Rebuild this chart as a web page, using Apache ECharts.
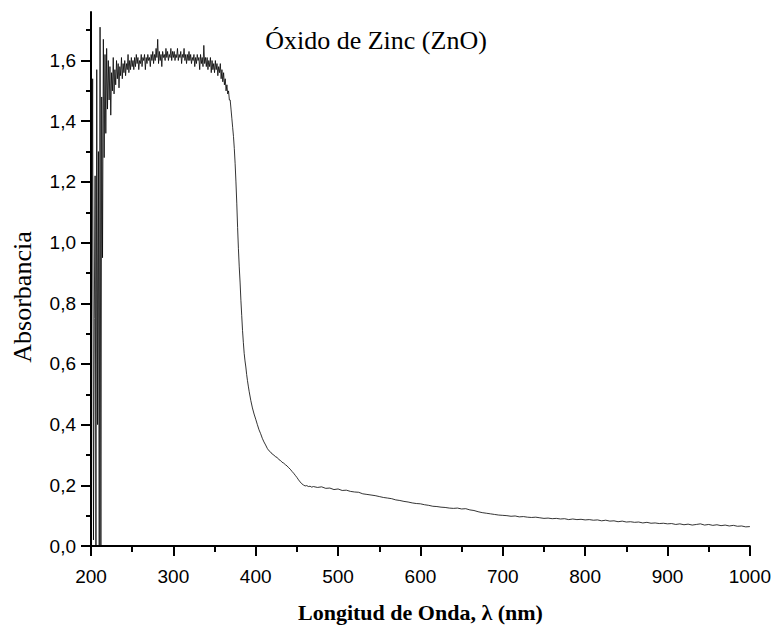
<!DOCTYPE html>
<html>
<head>
<meta charset="utf-8">
<script src="https://cdn.jsdelivr.net/npm/echarts@6/dist/echarts.min.js"></script>
<style>
html,body{margin:0;padding:0;background:#fff;}
#chart{width:774px;height:628px;}
</style>
</head>
<body>
<div id="chart"></div>
<script>
// ---- Data (Absorbance of ZnO vs wavelength) ----
const chartTitle = 'Óxido de Zinc (ZnO)';
const xAxisTitle = 'Longitud de Onda, λ (nm)';
const yAxisTitle = 'Absorbancia';

// 1 nm sampling, 200..392 nm
const fineStart = 200, fineStep = 1;
const fineAbs = [
  0.42,0.90,1.54,0.02,0.75,1.22,0.00,1.57,0.40,1.30,0.00,1.71,0.00,1.48,0.95,1.67,1.28,1.62,1.36,1.64,
  1.44,1.60,1.47,1.58,1.42,1.56,1.50,1.61,1.49,1.57,1.52,1.60,1.54,1.59,1.51,1.58,1.55,1.61,1.54,1.59,
  1.56,1.60,1.55,1.59,1.57,1.62,1.56,1.60,1.57,1.61,1.58,1.60,1.57,1.61,1.58,1.62,1.59,1.61,1.57,1.60,
  1.59,1.62,1.58,1.61,1.60,1.62,1.57,1.61,1.59,1.62,1.60,1.61,1.58,1.62,1.60,1.63,1.59,1.62,1.60,1.64,
  1.61,1.67,1.59,1.63,1.60,1.62,1.58,1.63,1.61,1.62,1.60,1.64,1.61,1.63,1.60,1.62,1.61,1.64,1.60,1.63,
  1.61,1.63,1.60,1.62,1.61,1.64,1.60,1.62,1.61,1.63,1.59,1.62,1.61,1.64,1.60,1.62,1.59,1.62,1.60,1.63,
  1.60,1.62,1.59,1.61,1.60,1.62,1.58,1.61,1.59,1.62,1.60,1.61,1.57,1.62,1.59,1.61,1.58,1.65,1.59,1.61,
  1.58,1.61,1.57,1.60,1.58,1.61,1.56,1.60,1.57,1.59,1.56,1.60,1.57,1.59,1.55,1.58,1.56,1.59,1.54,1.57,
  1.53,1.56,1.52,1.54,1.50,1.52,1.49,1.50,1.47,1.47,1.44,
  1.41,1.38,1.35,1.31,1.26,1.20,1.13,1.05,0.98,0.92,0.87,0.81,0.76,0.71,0.67,0.635,0.61,0.59,0.565,0.545,
  0.527,0.51
];

// 2 nm sampling, 394..470 nm
const midStart = 394, midStep = 2;
const midAbs = [
  0.48,0.455,0.435,0.418,0.40,0.383,0.37,0.355,0.343,0.333,
  0.322,0.314,0.31,0.303,0.300,0.294,0.292,0.285,0.282,0.276,
  0.273,0.268,0.264,0.258,0.253,0.246,0.24,0.233,0.226,0.218,
  0.211,0.205,0.201,0.198,0.199,0.196,0.197,0.194,0.196
];

// 5 nm sampling, 475..1000 nm
const tailStart = 475, tailStep = 5;
const tailAbs = [
  0.193,0.195,0.190,0.191,0.186,0.188,0.183,0.184,0.180,0.178,
  0.177,0.172,0.170,0.168,0.166,0.163,0.160,0.158,0.156,0.152,
  0.150,0.147,0.145,0.142,0.140,0.139,0.136,0.134,0.131,0.130,
  0.128,0.127,0.125,0.124,0.125,0.122,0.123,0.119,0.117,0.113,
  0.110,0.108,0.106,0.104,0.102,0.101,0.100,0.098,0.099,0.096,
  0.097,0.095,0.094,0.095,0.093,0.091,0.092,0.090,0.091,0.089,
  0.090,0.087,0.089,0.087,0.088,0.086,0.087,0.085,0.086,0.083,
  0.085,0.082,0.083,0.080,0.082,0.079,0.080,0.078,0.079,0.076,
  0.078,0.075,0.076,0.074,0.075,0.073,0.074,0.071,0.073,0.070,
  0.072,0.069,0.071,0.073,0.069,0.071,0.068,0.070,0.067,0.069,
  0.066,0.068,0.065,0.066,0.063,0.064
];

const yMajorTicks = [0, 0.2, 0.4, 0.6, 0.8, 1.0, 1.2, 1.4, 1.6];
const yMinorTicks = [0.1, 0.3, 0.5, 0.7, 0.9, 1.1, 1.3, 1.5, 1.7];

// ---- Build series data ----
function segment(start, step, vals) {
  return vals.map((v, i) => [start + i * step, v]);
}
const seriesData = []
  .concat(segment(fineStart, fineStep, fineAbs))
  .concat(segment(midStart, midStep, midAbs))
  .concat(segment(tailStart, tailStep, tailAbs));

const fmtComma = v => (Math.round(v * 10) / 10).toFixed(1).replace('.', ',');
const fmtPlain = v => String(Math.round(v));

const chart = echarts.init(document.getElementById('chart'), null, {renderer: 'svg'});
const tickLabelStyle = {fontFamily: 'Liberation Sans, Arial, sans-serif', fontSize: 19, color: '#000'};
chart.setOption({
  animation: false,
  backgroundColor: '#fff',
  title: {
    text: chartTitle,
    left: 371,
    top: 22,
    textAlign: 'center',
    textStyle: {fontFamily: 'Liberation Serif, serif', fontSize: 26, fontWeight: 'normal', color: '#000'}
  },
  grid: {left: 91, right: 24, top: 12, bottom: 79, containLabel: false},
  xAxis: {
    type: 'value',
    min: 200, max: 1000, interval: 100,
    name: xAxisTitle,
    nameLocation: 'middle',
    nameGap: 55,
    nameTextStyle: {fontFamily: 'Liberation Serif, serif', fontSize: 22, fontWeight: 'bold', color: '#000'},
    axisLine: {show: true, lineStyle: {color: '#000', width: 2}},
    axisTick: {show: true, inside: false, length: 10, lineStyle: {color: '#000', width: 2}},
    minorTick: {show: true, splitNumber: 2, length: 6, lineStyle: {color: '#000', width: 2}},
    axisLabel: Object.assign({margin: 21, formatter: fmtPlain}, tickLabelStyle),
    splitLine: {show: false}
  },
  yAxis: [
    {
      type: 'value',
      min: 0, max: 1.76,
      axisLine: {show: true, lineStyle: {color: '#000', width: 2}},
      axisTick: {show: true, inside: false, length: 10, customValues: yMajorTicks, lineStyle: {color: '#000', width: 2}},
      axisLabel: Object.assign({margin: 15, customValues: yMajorTicks, formatter: fmtComma}, tickLabelStyle),
      splitLine: {show: false}
    },
    {
      type: 'value',
      min: 0, max: 1.76,
      position: 'left',
      axisLine: {show: false},
      axisTick: {show: true, inside: false, length: 5, customValues: yMinorTicks, lineStyle: {color: '#000', width: 2}},
      axisLabel: {show: false},
      splitLine: {show: false}
    }
  ],
  graphic: [{
    type: 'text',
    x: 22, y: 297,
    rotation: Math.PI / 2,
    style: {
      text: yAxisTitle,
      fontFamily: 'Liberation Serif, serif',
      fontSize: 26,
      fill: '#000',
      align: 'center', verticalAlign: 'middle',
      textAlign: 'center', textVerticalAlign: 'middle'
    }
  }],
  series: [{
    type: 'line',
    yAxisIndex: 0,
    data: seriesData,
    showSymbol: false,
    symbol: 'none',
    smooth: false,
    lineStyle: {color: '#000', width: 0.8},
    clip: true
  }]
});
</script>
</body>
</html>
